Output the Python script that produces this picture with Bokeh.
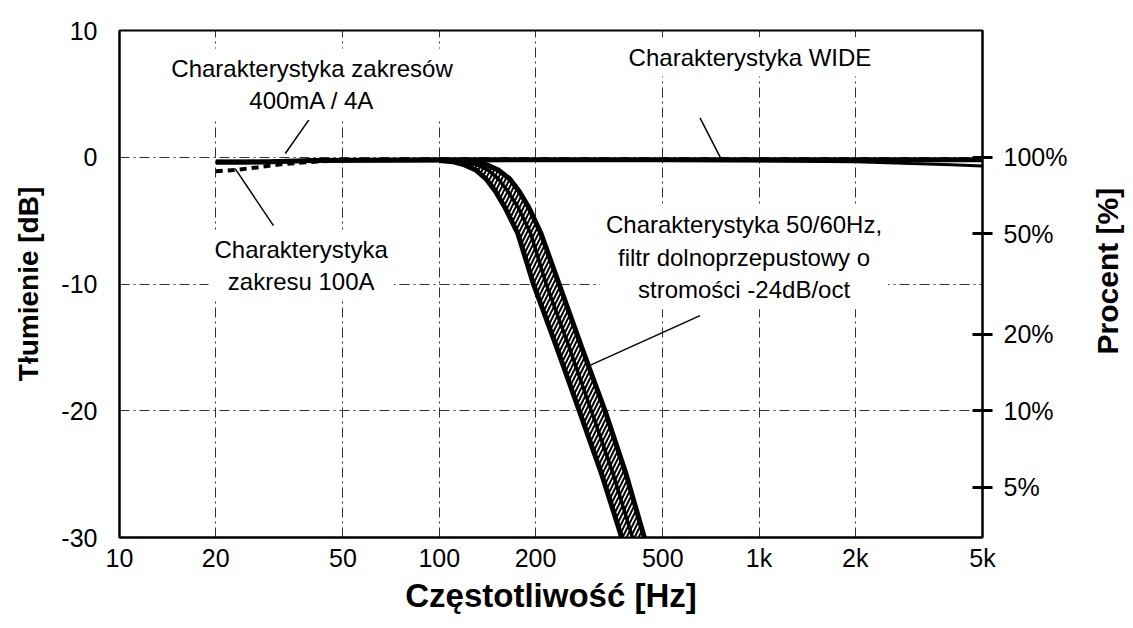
import math
from bokeh.plotting import figure
from bokeh.layouts import row
from bokeh.models import (Range1d, FixedTicker, LinearAxis, Label)
from bokeh.core.properties import value
from bokeh.embed import file_html
from bokeh.resources import INLINE

# ---------------- data ----------------
freq_ticks = [10, 20, 50, 100, 200, 500, 1000, 2000, 5000]
freq_labels = ["10", "20", "50", "100", "200", "500", "1k", "2k", "5k"]
freq_grid = [20, 50, 100, 200, 500, 1000, 2000]

db_ticks = [-30, -20, -10, 0, 10]
db_labels = ["-30", "-20", "-10", "0", "10"]
db_grid = [-20, -10, 0]

pct_db = [0, -6.02, -13.98, -20, -26.02]
pct_labels = ["100%", "50%", "20%", "10%", "5%"]

# 50/60Hz low-pass band (three edges)
band_db = [-0.25, -0.35, -0.6, -1.0, -1.7, -2.7, -3.9, -6.0, -10.0, -15.0, -20.0, -25.0, -30.0]
band_f_lo = [100, 110, 120, 130, 140, 150, 160, 176, 197, 233, 274, 322, 372]
band_f_mid = [105, 120, 131, 142, 153, 164, 176, 193, 216, 255, 299, 350, 402]
band_f_hi = [110, 129, 141, 153, 166, 178, 190, 208, 237, 279, 330, 384, 438]

# 400mA / 4A ranges
rng_f = [20, 25, 30, 40, 100, 1000, 5000]
rng_db = [-0.4, -0.4, -0.35, -0.25, -0.2, -0.2, -0.2]

# WIDE
wide_f = [20, 50, 100, 200, 500, 1000, 2000, 3000, 4000, 5000]
wide_db = [-0.3, -0.3, -0.3, -0.25, -0.25, -0.3, -0.35, -0.5, -0.6, -0.7]

# 100A range
a100_f = [20, 23, 27, 32, 38, 45]
a100_db = [-1.1, -1.0, -0.8, -0.55, -0.4, -0.3]

FONT = "Liberation Sans"

p = figure(width=1083, height=628, x_axis_type="log",
           x_range=Range1d(10, 5000), y_range=Range1d(-30, 10),
           output_backend="svg", toolbar_location=None,
           min_border_left=119, min_border_right=101,
           min_border_top=30, min_border_bottom=91)
p.background_fill_color = "white"
p.border_fill_color = "white"
p.outline_line_color = "black"
p.outline_line_width = 2

# grids
p.xgrid.ticker = FixedTicker(ticks=freq_grid)
p.ygrid.ticker = FixedTicker(ticks=db_grid)
for g in (p.xgrid, p.ygrid):
    g.grid_line_color = "black"
    g.grid_line_width = 1
    g.grid_line_dash = "10 4 2 4"
    g.grid_line_alpha = 0.8

# x axis
xa = p.xaxis[0]
xa.ticker = FixedTicker(ticks=freq_ticks)
xa.major_label_overrides = {t: l for t, l in zip(freq_ticks, freq_labels)}
xa.minor_tick_line_color = None
xa.major_tick_out = 0
xa.major_tick_in = 0
xa.axis_line_color = "black"
xa.axis_line_width = 2
xa.major_label_standoff = 6
xa.major_label_text_font = FONT
xa.major_label_text_font_size = "25px"
xa.major_label_text_color = "black"
xa.axis_label = "Częstotliwość [Hz]"
xa.axis_label_text_font = FONT
xa.axis_label_text_font_style = "bold"
xa.axis_label_text_font_size = "33px"
xa.axis_label_text_color = "black"
xa.axis_label_standoff = 2

# left axis
ya = p.yaxis[0]
ya.ticker = FixedTicker(ticks=db_ticks)
ya.major_label_overrides = {t: l for t, l in zip(db_ticks, db_labels)}
ya.minor_tick_line_color = None
ya.major_tick_out = 0
ya.major_tick_in = 0
ya.axis_line_color = "black"
ya.axis_line_width = 2
ya.major_label_standoff = 22
ya.major_label_text_font = FONT
ya.major_label_text_font_size = "25px"
ya.major_label_text_color = "black"
ya.axis_label = "Tłumienie [dB]"
ya.axis_label_text_font = FONT
ya.axis_label_text_font_style = "bold"
ya.axis_label_text_font_size = "28px"
ya.axis_label_text_color = "black"
ya.axis_label_standoff = 14

# right axis (percent)
ra = LinearAxis(ticker=FixedTicker(ticks=pct_db),
                major_label_overrides={t: l for t, l in zip(pct_db, pct_labels)})
ra.minor_tick_line_color = None
ra.major_tick_in = 10
ra.major_tick_out = 10
ra.major_tick_line_width = 3
ra.major_tick_line_color = "black"
ra.axis_line_color = "black"
ra.axis_line_width = 2
ra.major_label_standoff = 11
ra.major_label_text_font = FONT
ra.major_label_text_font_size = "25px"
ra.major_label_text_color = "black"
p.add_layout(ra, "right")

# hatched filter band
for f_a, f_b in ((band_f_lo, band_f_mid), (band_f_mid, band_f_hi)):
    p.patch(f_a + f_b[::-1], band_db + band_db[::-1],
            fill_color="white", line_color=None,
            hatch_pattern="/", hatch_color="black", hatch_scale=8, hatch_weight=2)
p.line(band_f_lo, band_db, line_color="black", line_width=5)
p.line(band_f_mid, band_db, line_color="black", line_width=3.5)
p.line(band_f_hi, band_db, line_color="black", line_width=5)

# flat characteristics
p.line(wide_f, wide_db, line_color="black", line_width=3)
p.line(rng_f, rng_db, line_color="black", line_width=5)
p.line(a100_f, a100_db, line_color="black", line_width=4, line_dash="7 5")

# leader lines
p.line([33, 40], [0.3, 3.3], line_color="black", line_width=1.5)
p.line([23, 30.3], [-0.9, -5.4], line_color="black", line_width=1.5)
p.line([654, 765], [3.1, -0.25], line_color="black", line_width=1.5)
p.line([297, 654], [-16.4, -12.5], line_color="black", line_width=1.5)

# annotation texts (multi-line blocks with white background)
def lab(x, y, t):
    p.add_layout(Label(x=x, y=y, text=t, text_align="center", text_baseline="middle",
                       text_font=FONT, text_font_size="24px", text_color="black",
                       text_line_height=1.2,
                       background_fill_color="white", padding=6))

lab(40, 5.76, "Charakterystyka zakresów\n400mA / 4A")
lab(937, 7.9, "Charakterystyka WIDE")
lab(37, -8.52, "Charakterystyka\nzakresu 100A")
lab(898, -7.89, "Charakterystyka 50/60Hz,\nfiltr dolnoprzepustowy o\nstromości -24dB/oct")

# narrow strip holding the right-hand axis title (reads bottom-to-top)
t = figure(width=50, height=628, x_range=Range1d(0, 50), y_range=Range1d(628, 0),
           output_backend="svg", toolbar_location=None,
           min_border_left=0, min_border_right=0, min_border_top=0, min_border_bottom=0)
t.axis.visible = False
t.grid.visible = False
t.outline_line_color = None
t.background_fill_color = "white"
t.border_fill_color = "white"
t.text(x=[24], y=[298], text=["Procent [%]"], angle=math.pi / 2,
       text_align="center", text_baseline="middle",
       text_font=value(FONT), text_font_style="bold", text_font_size="30px",
       text_color="black")

open("out.html", "w").write(file_html(row(p, t), INLINE))
